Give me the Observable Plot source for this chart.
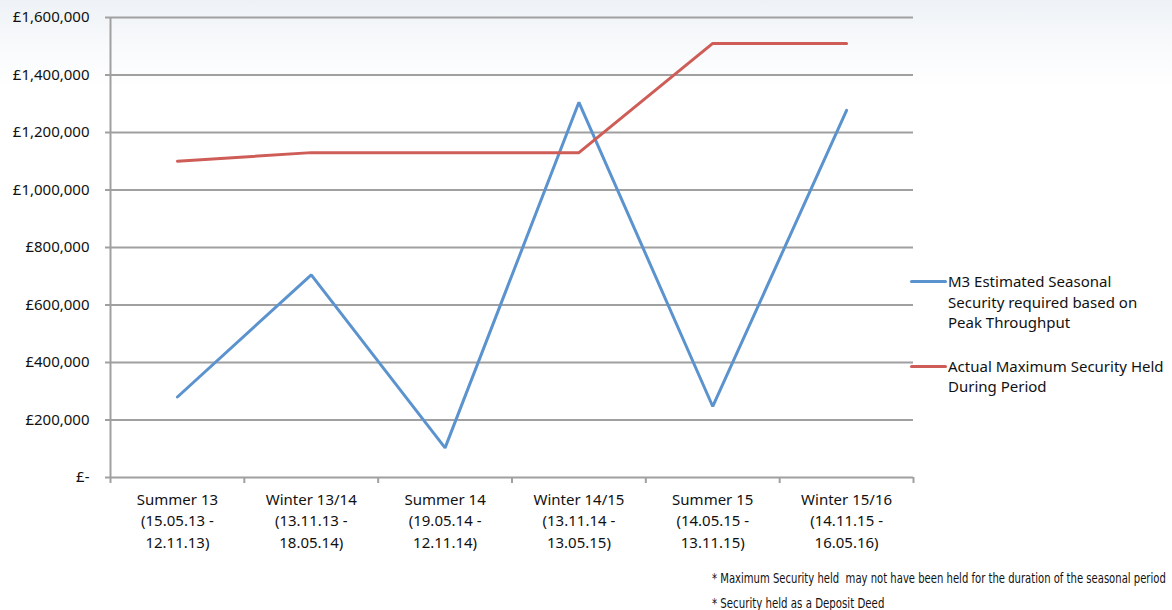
<!DOCTYPE html>
<html>
<head>
<meta charset="utf-8">
<script src="https://cdn.jsdelivr.net/npm/d3@7"></script>
<script src="https://cdn.jsdelivr.net/npm/@observablehq/plot@0.6"></script>
<style>
  html, body { margin: 0; padding: 0; width: 1172px; height: 610px; overflow: hidden;
    background: linear-gradient(to bottom, #eef2f6 0px, #f7f9fb 40px, #ffffff 90px); }
  #wrap { position: relative; width: 1172px; height: 610px; font-family: "Noto Sans", sans-serif; }
  #legend { position: absolute; left: 910px; top: 271px; font-size: 15px; line-height: 20.5px; color: #111; }
  .item { position: relative; padding-left: 38px; margin-bottom: 23px; }
  .swatch { position: absolute; left: 0; top: 9px; width: 37px; height: 3px; border-radius: 2px; }
  #notes { position: absolute; left: 712px; top: 566px; font-family: "Liberation Sans Narrow", "DejaVu Sans Condensed", sans-serif; font-size: 13px; line-height: 25px; color: #111; white-space: pre; }
  #notes span { display: inline-block; transform-origin: 0 50%; line-height: 16px; }
  #notes div { height: 25px; }
</style>
</head>
<body>
<div id="wrap">
  <div id="chart"></div>
  <div id="legend"></div>
  <div id="notes"></div>
</div>
<script>
const categories = [
  "Summer 13\n(15.05.13 -\n12.11.13)",
  "Winter 13/14\n(13.11.13 -\n18.05.14)",
  "Summer 14\n(19.05.14 -\n12.11.14)",
  "Winter 14/15\n(13.11.14 -\n13.05.15)",
  "Summer 15\n(14.05.15 -\n13.11.15)",
  "Winter 15/16\n(14.11.15 -\n16.05.16)"
];
const estimated = [280000, 705000, 103000, 1305000, 247000, 1277000];
const actual = [1100000, 1130000, 1130000, 1130000, 1510000, 1510000];
const seriesNames = [
  "M3 Estimated Seasonal\nSecurity required based on\nPeak Throughput",
  "Actual Maximum Security Held\nDuring Period"
];
const seriesColors = ["#5b93cf", "#cf5d57"];
const yTicks = [0, 200000, 400000, 600000, 800000, 1000000, 1200000, 1400000, 1600000];
const notes = [
  "* Maximum Security held  may not have been held for the duration of the seasonal period",
  "* Security held as a Deposit Deed"
];

const rows = categories.map((c, i) => ({i, c, est: estimated[i], act: actual[i]}));
const grid = "#a0a0a0";

const chart = Plot.plot({
  width: 1172,
  height: 560,
  marginLeft: 110,
  marginRight: 259,
  marginTop: 17,
  marginBottom: 83,
  style: {fontFamily: "Noto Sans, sans-serif", fontSize: "15px", background: "transparent", color: "#111"},
  x: {domain: [0, categories.length]},
  y: {domain: [0, 1600000]},
  marks: [
    Plot.gridY(yTicks, {stroke: grid, strokeOpacity: 1, strokeWidth: 2}),
    Plot.axisY(yTicks, {
      tickSize: 5, tickPadding: 16, stroke: grid, strokeWidth: 2, fill: "#111", fontSize: 15,
      tickFormat: d => d === 0 ? "£-" : "£" + d3.format(",")(d), label: null
    }),
    Plot.ruleX([0], {stroke: grid, strokeWidth: 2}),
    Plot.axisX(d3.range(categories.length + 1), {
      tickSize: 6, stroke: grid, strokeWidth: 2, tickFormat: () => "", label: null
    }),
    Plot.text(rows, {
      x: d => d.i + 0.5, text: "c", frameAnchor: "bottom", lineAnchor: "top",
      dy: 12, lineHeight: 1.43, fill: "#111", fontSize: 15
    }),
    Plot.line(rows, {x: d => d.i + 0.5, y: "est", stroke: seriesColors[0], strokeWidth: 3, strokeLinecap: "round", strokeLinejoin: "miter"}),
    Plot.line(rows, {x: d => d.i + 0.5, y: "act", stroke: seriesColors[1], strokeWidth: 3, strokeLinecap: "round", strokeLinejoin: "miter"})
  ]
});
document.getElementById("chart").appendChild(chart);

const legend = document.getElementById("legend");
seriesNames.forEach((n, k) => {
  const it = document.createElement("div");
  it.className = "item";
  const sw = document.createElement("div");
  sw.className = "swatch";
  sw.style.background = seriesColors[k];
  it.appendChild(sw);
  n.split("\n").forEach(line => {
    const l = document.createElement("div");
    l.textContent = line;
    it.appendChild(l);
  });
  legend.appendChild(it);
});

const notesEl = document.getElementById("notes");
const widths = [454, 172];
notes.forEach((t, k) => {
  const row = document.createElement("div");
  const s = document.createElement("span");
  s.textContent = t;
  row.appendChild(s);
  notesEl.appendChild(row);
  const w = s.offsetWidth;
  s.style.transform = `scale(${widths[k] / w}, 1.08)`;
});
</script>
</body>
</html>
